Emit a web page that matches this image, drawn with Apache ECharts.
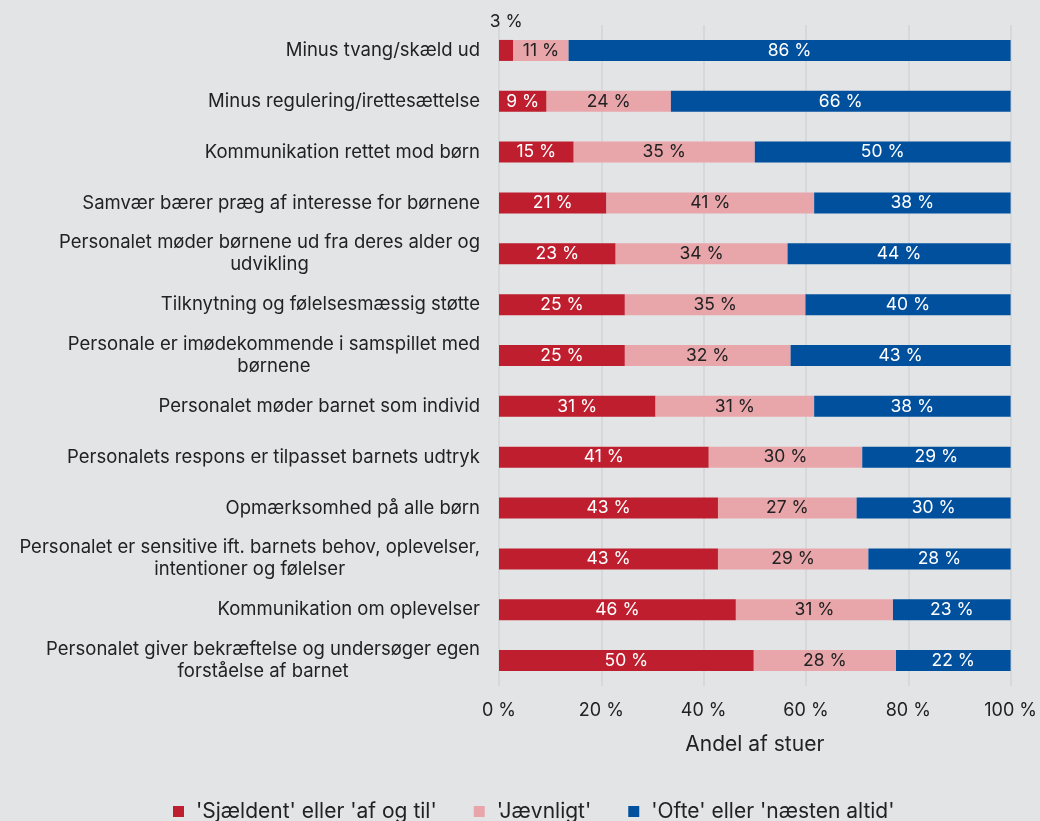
<!DOCTYPE html>
<html>
<head>
<meta charset="utf-8">
<script src="https://cdn.jsdelivr.net/npm/echarts@6/dist/echarts.min.js"></script>
<style>
  html, body { margin: 0; padding: 0; background: #e3e4e6; }
  #main { width: 1040px; height: 821px; }
</style>
</head>
<body>
<div id="main"></div>
<script>
// data (percent of rooms)
var categories = [
  'Minus tvang/skæld ud',
  'Minus regulering/irettesættelse',
  'Kommunikation rettet mod børn',
  'Samvær bærer præg af interesse for børnene',
  'Personalet møder børnene ud fra deres alder og\nudvikling',
  'Tilknytning og følelsesmæssig støtte',
  'Personale er imødekommende i samspillet med\nbørnene',
  'Personalet møder barnet som individ',
  'Personalets respons er tilpasset barnets udtryk',
  'Opmærksomhed på alle børn',
  'Personalet er sensitive ift. barnets behov, oplevelser,\nintentioner og følelser',
  'Kommunikation om oplevelser',
  'Personalet giver bekræftelse og undersøger egen\nforståelse af barnet'
];
var seriesNames = ["'Sjældent' eller 'af og til'", "'Jævnligt'", "'Ofte' eller 'næsten altid'"];
var sjaeldent = [2.8, 9.3, 14.6, 21.0, 22.8, 24.6, 24.6, 30.6, 41.0, 42.8, 42.8, 46.3, 49.8];
var jaevnligt = [10.8, 24.3, 35.4, 40.6, 33.6, 35.3, 32.4, 31.0, 30.0, 27.1, 29.4, 30.7, 27.8];
var ofte      = [86.4, 66.4, 50.0, 38.4, 43.6, 40.1, 43.0, 38.4, 29.0, 30.1, 27.8, 23.0, 22.4];
var xTicks = [0, 20, 40, 60, 80, 100];

var colors = ['#be1e2e', '#e8a6ab', '#00509e'];
var font = 'Inter, "Noto Sans", sans-serif';

var myChart = echarts.init(document.getElementById('main'));

function pct(p) { return Math.round(p.value) + ' %'; }

// red segment in first row is too small, label goes above it
var redData = sjaeldent.map(function (v, i) {
  if (v < 5) return { value: v, label: { position: 'top', color: '#222', distance: 9 } };
  return v;
});

function mkSeries(name, data, color, labelColor) {
  return {
    name: name,
    type: 'bar',
    stack: 'total',
    barWidth: 21,
    data: data,
    itemStyle: { color: color },
    label: {
      show: true,
      position: 'inside',
      color: labelColor,
      fontFamily: font,
      fontSize: 17.5,
      formatter: pct
    }
  };
}

var option = {
  backgroundColor: '#e3e4e6',
  textStyle: { fontFamily: font },
  grid: { left: 499, right: 27, top: 25, bottom: 135 },
  legend: {
    data: seriesNames,
    left: 168,
    top: 796,
    itemWidth: 11,
    itemHeight: 11,
    itemGap: 37,
    icon: 'rect',
    textStyle: { fontFamily: font, fontSize: 21, color: '#222', padding: [0, 0, 0, 7] }
  },
  xAxis: {
    type: 'value',
    min: xTicks[0],
    max: xTicks[xTicks.length - 1],
    interval: 20,
    name: 'Andel af stuer',
    nameLocation: 'middle',
    nameGap: 48,
    nameTextStyle: { fontFamily: font, fontSize: 21, color: '#222' },
    axisLine: { show: false },
    axisTick: { show: false },
    axisLabel: { fontFamily: font, fontSize: 18, color: '#222', margin: 16, formatter: '{value} %' },
    splitLine: { show: true, lineStyle: { color: '#d3d4d6', width: 1.5 } }
  },
  yAxis: {
    type: 'category',
    inverse: true,
    data: categories,
    axisLine: { show: false },
    axisTick: { show: false },
    axisLabel: {
      margin: 19,
      fontFamily: font,
      fontSize: 18.5,
      color: '#222',
      lineHeight: 22,
      formatter: function (v) {
        if (v.indexOf('\n') < 0) return v;
        return v.split('\n').map(function (s) { return '{c|' + s + '}'; }).join('\n');
      },
      rich: {
        c: { align: 'center', fontFamily: font, fontSize: 18.5, color: '#222', lineHeight: 22 }
      }
    }
  },
  series: [
    mkSeries(seriesNames[0], redData, colors[0], '#fff'),
    mkSeries(seriesNames[1], jaevnligt, colors[1], '#222'),
    mkSeries(seriesNames[2], ofte, colors[2], '#fff')
  ]
};

myChart.setOption(option);
</script>
</body>
</html>
